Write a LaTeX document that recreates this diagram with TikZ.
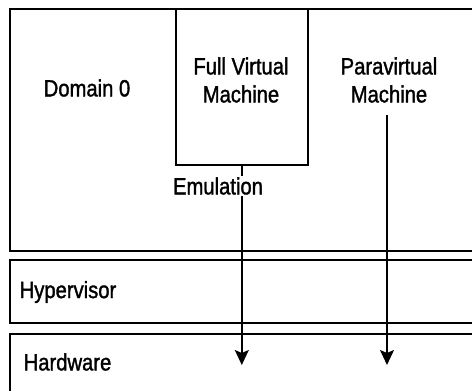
\documentclass[tikz,border=0pt]{standalone}
\usepackage{fontspec}
\setmainfont{Liberation Sans}[FakeStretch=0.86,FakeBold=1.4]
\usetikzlibrary{arrows.meta,positioning,calc}
\tikzset{layer/.style={draw=black,line width=1.6pt,anchor=north west,inner sep=0pt},
lbl/.style={font=\fontsize{23.5}{28}\selectfont,align=center,inner sep=1.5pt},
flow/.style={-{Stealth[length=15pt,width=14pt,inset=3pt]},line width=1.5pt},
tick/.style={line width=1.5pt}}

\begin{document}
\begin{tikzpicture}[x=1pt,y=-1pt]
\useasboundingbox (0,0) rectangle (472,391);
\clip (0,0) rectangle (472,391);
\node[layer,minimum width=480pt,minimum height=242pt] (dom) at (9,8) {};
\node[layer,minimum width=480pt,minimum height=63pt] (hyp) at (9,259) {};
\node[layer,minimum width=480pt,minimum height=70pt] (hw) at (9,333) {};
\node[layer,minimum width=132pt,minimum height=156pt] (fvm) at (175,8) {};
\node[lbl] (dom0) at (87,88) {Domain 0};
\node[lbl] (fvmt) at (241,80) {Full Virtual\\Machine};
\node[lbl] (pvm) at (389,80) {Paravirtual\\Machine};
\node[lbl,anchor=west] (hypt) at (18,292) {Hypervisor};
\node[lbl,anchor=west] (hwt) at (22,362) {Hardware};
\node[lbl] (emu) at (218,186) {Emulation};
\coordinate (tip) at (0,365);
\coordinate (pvtop) at (387,115);
\draw[tick] (fvm.south) -- (fvm.south |- emu.north);
\draw[flow] (fvm.south |- emu.south) -- (fvm.south |- tip);
\draw[flow] (pvtop) -- (pvtop |- tip);
\end{tikzpicture}
\end{document}
